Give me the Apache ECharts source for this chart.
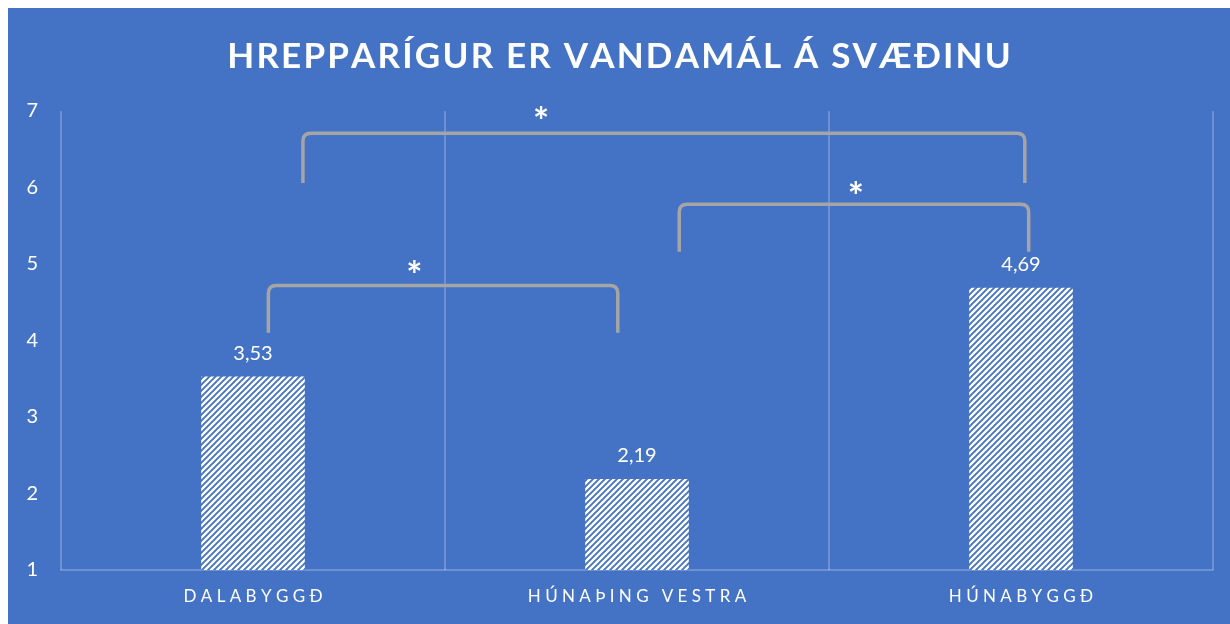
<html>
    <head>
        <meta charset="utf-8">
        <script src="https://cdn.jsdelivr.net/npm/echarts@6/dist/echarts.min.js"></script>
        <style>
            body { margin: 0; background: #fff; }
            #chart { position: absolute; left: 8px; top: 8px; width: 1222px; height: 616px; }
        </style>
    </head>
    <body>
        <div id="chart"></div>
        <script>
        var titleText = 'HREPPARÍGUR ER VANDAMÁL Á SVÆÐINU';
        var categories = ['DALABYGGÐ', 'HÚNAÞING VESTRA', 'HÚNABYGGÐ'];
        var values = [3.53, 2.19, 4.69];

        // brackets: [left x, right x, top y, leg bottom y] in category units / axis values
        var brackets = [
            [0.04, 0.95, 4.72, 4.10],
            [0.13, 2.01, 6.71, 6.06],
            [1.11, 2.02, 5.78, 5.16]
        ];
        // asterisk positions [x, y]
        var stars = [
            [0.42, 4.95],
            [0.75, 6.97],
            [1.57, 5.98]
        ];

        var blue = '#4472C4';
        var gridColor = 'rgba(255,255,255,0.3)';
        var font = 'Lato, "Open Sans", sans-serif';

        function spaced(s, sep) {
            return s.split('').join(sep);
        }

        // diagonal hatch
        var pat = document.createElement('canvas');
        pat.width = 6;
        pat.height = 6;
        var ctx = pat.getContext('2d');
        ctx.fillStyle = '#fff';
        ctx.fillRect(0, 0, 6, 6);
        ctx.strokeStyle = blue;
        ctx.lineWidth = 1.9;
        ctx.beginPath();
        ctx.moveTo(-1, 7); ctx.lineTo(7, -1);
        ctx.moveTo(-1, 1); ctx.lineTo(1, -1);
        ctx.moveTo(5, 7); ctx.lineTo(7, 5);
        ctx.stroke();

        var myChart = echarts.init(document.getElementById('chart'));

        var option = {
            backgroundColor: blue,
            animation: false,
            textStyle: { fontFamily: font },
            title: {
                text: spaced(titleText, '\u200A'),
                left: 'center',
                top: 26,
                textStyle: {
                    color: '#fff',
                    fontSize: 35,
                    fontWeight: 'bold',
                    fontFamily: font
                }
            },
            grid: {
                left: 53,
                right: 17,
                top: 103,
                bottom: 54
            },
            xAxis: [{
                type: 'category',
                data: categories,
                axisTick: { show: false },
                axisLine: { lineStyle: { color: gridColor, width: 1.5 } },
                splitLine: { show: true, lineStyle: { color: gridColor, width: 1.5 } },
                axisLabel: {
                    color: '#fff',
                    fontSize: 17,
                    margin: 18,
                    formatter: function (v) { return spaced(v, ' '); }
                }
            }, {
                type: 'value',
                min: -0.5,
                max: 2.5,
                show: false
            }],
            yAxis: {
                type: 'value',
                min: 1,
                max: 7,
                interval: 1,
                splitLine: { show: false },
                axisLine: { show: false },
                axisTick: { show: false },
                axisLabel: {
                    color: '#fff',
                    fontSize: 20,
                    margin: 23
                }
            },
            series: [{
                type: 'bar',
                data: values,
                barWidth: '27%',
                itemStyle: {
                    color: { image: pat, repeat: 'repeat' }
                },
                label: {
                    show: true,
                    position: 'top',
                    distance: 13,
                    color: '#fff',
                    fontSize: 20,
                    formatter: function (p) { return String(p.value).replace('.', ','); }
                }
            }, {
                type: 'custom',
                xAxisIndex: 1,
                data: brackets,
                encode: { x: [0, 1], y: [2, 3] },
                renderItem: function (params, api) {
                    var a = api.coord([api.value(0), api.value(3)]);
                    var b = api.coord([api.value(1), api.value(2)]);
                    var x1 = a[0], x2 = b[0], yb = a[1], yt = b[1];
                    var r = 8;
                    var d = 'M' + x1 + ' ' + yb +
                        ' L' + x1 + ' ' + (yt + r) +
                        ' Q' + x1 + ' ' + yt + ' ' + (x1 + r) + ' ' + yt +
                        ' L' + (x2 - r) + ' ' + yt +
                        ' Q' + x2 + ' ' + yt + ' ' + x2 + ' ' + (yt + r) +
                        ' L' + x2 + ' ' + yb;
                    var s = stars[params.dataIndex];
                    var sp = api.coord(s);
                    return {
                        type: 'group',
                        children: [{
                            type: 'path',
                            shape: { pathData: d },
                            style: { fill: null, stroke: '#A5A5A5', lineWidth: 3.5 }
                        }, {
                            type: 'text',
                            x: sp[0],
                            y: sp[1] + 9,
                            style: {
                                text: '*',
                                fill: '#fff',
                                font: 'bold 38px ' + font,
                                align: 'center',
                                verticalAlign: 'middle'
                            }
                        }]
                    };
                }
            }]
        };

        myChart.setOption(option);
        </script>
    </body>
</html>
